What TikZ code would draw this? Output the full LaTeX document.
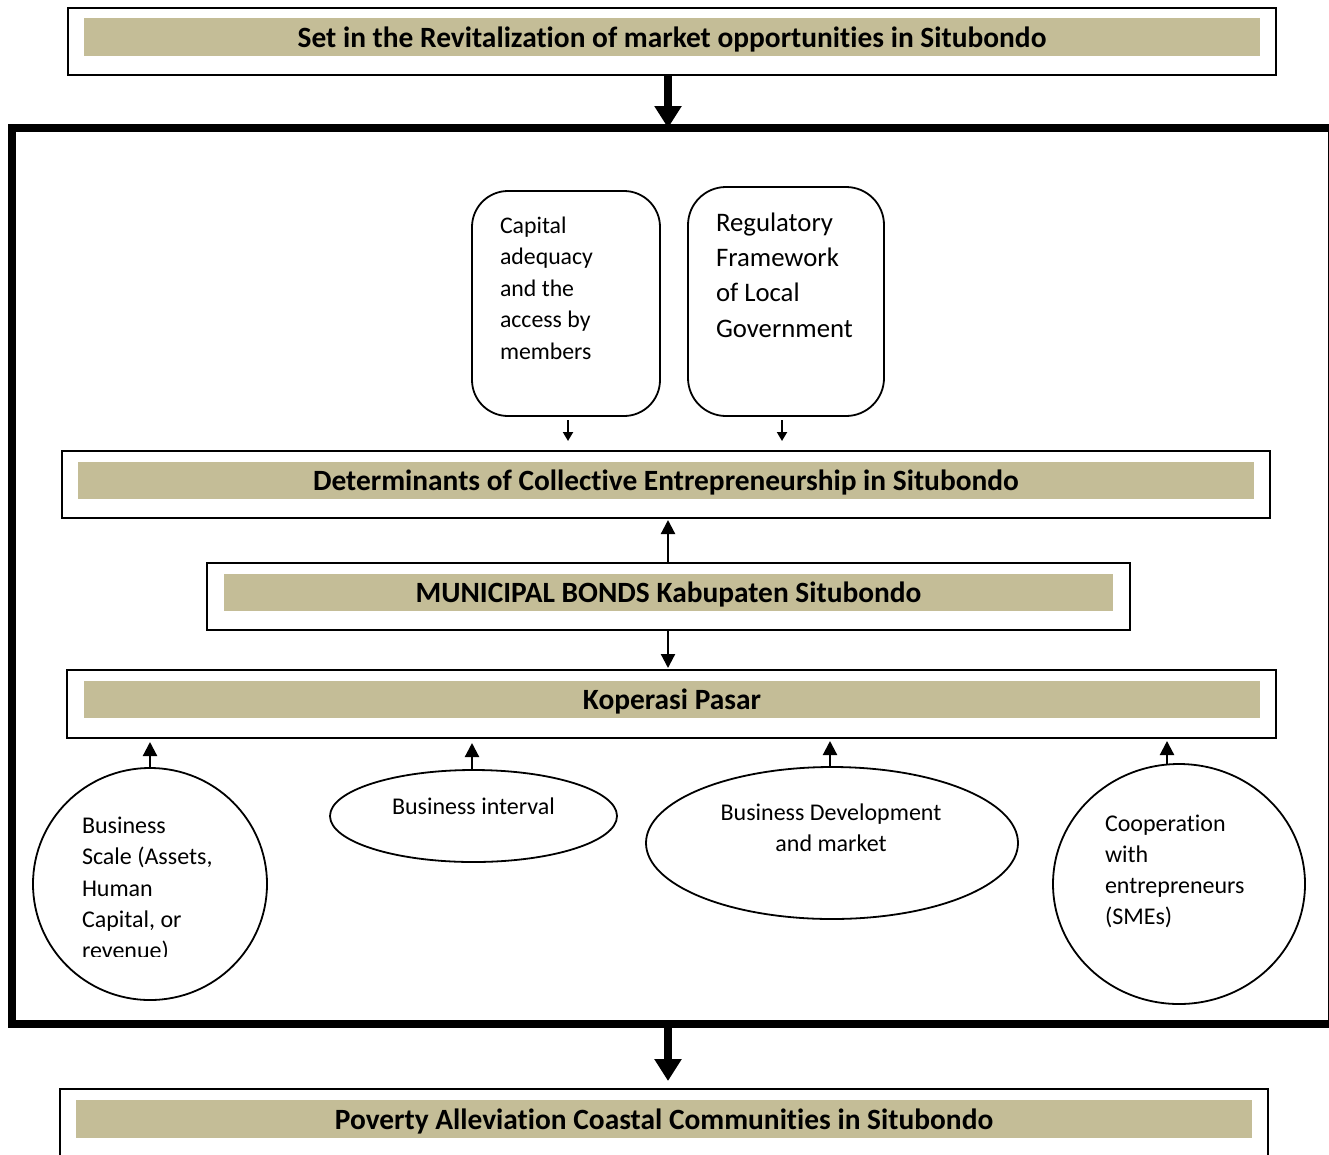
\documentclass[tikz,border=0pt]{standalone}
\usepackage{fontspec}
\setmainfont{Carlito}[Ligatures={NoCommon}]
\usetikzlibrary{arrows.meta,shapes.geometric}
\definecolor{tanbg}{HTML}{C4BD97}
\begin{document}
\begin{tikzpicture}[x=1pt,y=-1pt,
  obox/.style={draw,line width=2pt,inner sep=0pt,outer sep=0pt},
  tanbar/.style={fill=tanbg,inner sep=0pt,outer sep=0pt,text height=24pt,text depth=4pt,font=\bfseries\fontsize{29.4}{34}\selectfont},
  rbox/.style={draw,line width=1.8pt,rounded corners=36pt,inner sep=0pt,outer sep=0pt},
  oval/.style={draw,ellipse,line width=1.8pt,inner sep=0pt,outer sep=0pt},
  body/.style={inner sep=0pt,outer sep=0pt,align=left,font=\fontsize{24}{31.3}\selectfont},
  bigarrow/.style={line width=8pt,-{Triangle[width=26pt,length=22pt]}},
  smallarrow/.style={line width=2.2pt,-{Triangle[width=14pt,length=14pt]}},
  tinyarrow/.style={line width=2pt,-{Triangle[width=10pt,length=9pt]}}
]
\path[use as bounding box,clip] (0,0) rectangle (1329,1154);
\fill[white] (0,0) rectangle (1329,1154);

% top box
\node[obox,minimum width=1208pt,minimum height=67pt] (top) at (672,41.5) {};
\node[tanbar,minimum width=1176pt,minimum height=38pt] (topbar) at (672,37) {Set in the Revitalization of market opportunities in Situbondo};

% big frame
\node[draw,line width=8pt,inner sep=0pt,outer sep=0pt,minimum width=1320pt,minimum height=896pt] (frame) at (672,576) {};

% rounded boxes
\node[rbox,minimum width=188pt,minimum height=225pt] (cap) at (566,303.5) {};
\node[body,anchor=north west,font=\fontsize{23.8}{31.5}\selectfont] (captxt) at (500,216.8) {Capital\\adequacy\\and the\\access by\\members};
\node[rbox,rounded corners=38pt,minimum width=196pt,minimum height=229pt] (reg) at (786,301.5) {};
\node[body,anchor=north west,font=\fontsize{26.75}{35.3}\selectfont] (regtxt) at (716,212.6) {Regulatory\\Framework\\of Local\\Government};

% determinants
\node[obox,minimum width=1208pt,minimum height=67pt] (det) at (666,484.5) {};
\node[tanbar,minimum width=1176pt,minimum height=37pt] (detbar) at (666,480.5) {Determinants of Collective Entrepreneurship in Situbondo};

% municipal
\node[obox,minimum width=923pt,minimum height=67pt] (mun) at (668.5,596.5) {};
\node[tanbar,minimum width=889pt,minimum height=37pt] (munbar) at (668.5,592.5) {MUNICIPAL BONDS Kabupaten Situbondo};

% koperasi
\node[obox,minimum width=1209pt,minimum height=68pt] (kop) at (671.5,704) {};
\node[tanbar,minimum width=1176pt,minimum height=37pt] (kopbar) at (672,699.5) {Koperasi Pasar};

% ovals
\node[oval,minimum width=234pt,minimum height=232pt] (c1) at (150,884) {};
\node[oval,minimum width=287pt,minimum height=92pt] (e2) at (473.5,816) {};
\node[oval,minimum width=372pt,minimum height=152pt] (e3) at (832,843) {};
\node[oval,minimum width=252pt,minimum height=240pt] (c4) at (1179,884) {};

\begin{scope}
\clip (60,790) rectangle (260,956);
\node[body,anchor=north west] (c1txt) at (82,817) {Business\\Scale (Assets,\\Human\\Capital, or\\revenue)};
\end{scope}
\node[body,anchor=north] (e2txt) at (473.5,798) {Business interval};
\node[body,anchor=north,align=center,font=\fontsize{24}{31}\selectfont] (e3txt) at (831,804) {Business Development\\and market};
\node[body,anchor=north west] (c4txt) at (1105,814.5) {Cooperation\\with\\entrepreneurs\\(SMEs)};

% bottom box
\node[obox,minimum width=1208pt,minimum height=120pt] (bot) at (664,1149) {};
\node[tanbar,minimum width=1176pt,minimum height=38pt] (botbar) at (664,1119) {Poverty Alleviation Coastal Communities in Situbondo};

% arrows
\draw[bigarrow] ([xshift=-4pt]top.south) -- ([xshift=-4pt]top.south |- frame.north);
\draw[bigarrow,shorten >=8pt] ([xshift=-4pt]frame.south) -- ([xshift=-4pt]frame.south |- bot.north);
\draw[tinyarrow,shorten <=4pt,shorten >=10pt] ([xshift=2pt]cap.south) -- ([xshift=2pt]cap.south |- det.north);
\draw[tinyarrow,shorten <=4pt,shorten >=10pt] ([xshift=-4pt]reg.south) -- ([xshift=-4pt]reg.south |- det.north);
\draw[smallarrow,shorten >=2pt] ([xshift=-0.5pt]mun.north) -- ([xshift=-0.5pt]mun.north |- det.south);
\draw[smallarrow,shorten >=2pt] ([xshift=-0.5pt]mun.south) -- ([xshift=-0.5pt]mun.south |- kop.north);
\draw[smallarrow,shorten >=4pt] (c1.north) -- (c1.north |- kop.south);
\draw[smallarrow,shorten >=5pt] ([xshift=-1.5pt]e2.north) -- ([xshift=-1.5pt]e2.north |- kop.south);
\draw[smallarrow,shorten >=3pt] ([xshift=-2pt]e3.north) -- ([xshift=-2pt]e3.north |- kop.south);
\draw[smallarrow,shorten >=3pt] ([xshift=-12pt]c4.north) -- ([xshift=-12pt]c4.north |- kop.south);
\end{tikzpicture}
\end{document}
